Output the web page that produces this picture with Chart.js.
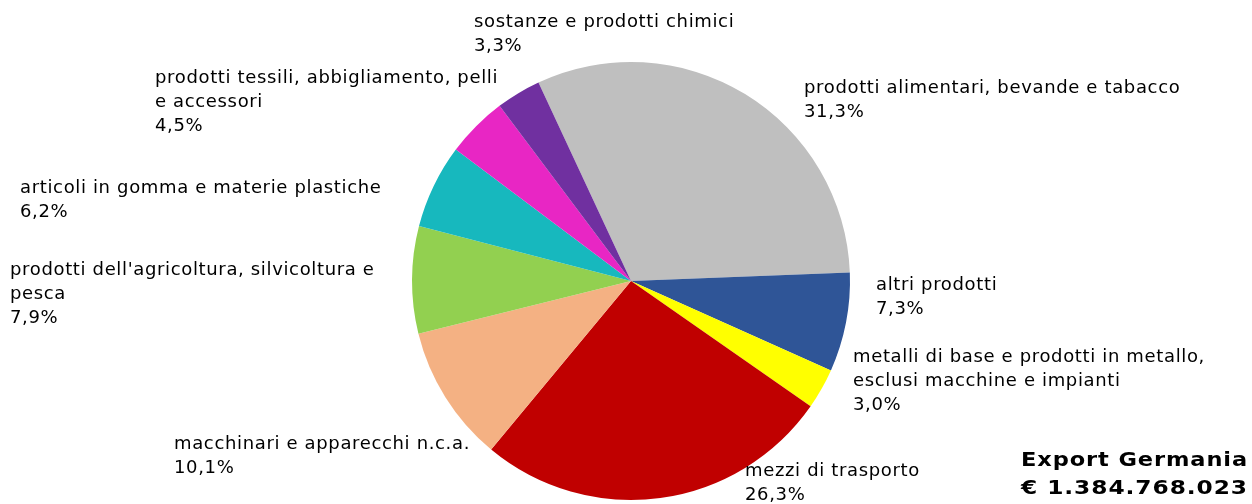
<!DOCTYPE html>
<html>
<head>
<meta charset="utf-8">
<script src="https://cdn.jsdelivr.net/npm/chart.js@4"></script>
<style>
  html, body { margin: 0; padding: 0; background: #fff; }
</style>
</head>
<body>
<canvas id="chart" width="1252" height="504"></canvas>
<script>
// categories, as the label lines shown next to each slice
const categories = [
  ['prodotti alimentari, bevande e tabacco'],
  ['altri prodotti'],
  ['metalli di base e prodotti in metallo,', 'esclusi macchine e impianti'],
  ['mezzi di trasporto'],
  ['macchinari e apparecchi n.c.a.'],
  ["prodotti dell'agricoltura, silvicoltura e", 'pesca'],
  ['articoli in gomma e materie plastiche'],
  ['prodotti tessili, abbigliamento, pelli', 'e accessori'],
  ['sostanze e prodotti chimici']
];
const shares = [31.3, 7.3, 3.0, 26.3, 10.1, 7.9, 6.2, 4.5, 3.3];
const colors = ['#BFBFBF', '#2F5597', '#FFFF00', '#C00000', '#F4B183',
                '#92D050', '#17B8BE', '#E826C4', '#7030A0'];
const titleLines = ['Export Germania', '€ 1.384.768.023'];

// where each label's first line sits (left x, middle y)
const labelPos = [
  [804, 88], [876, 285], [853, 357], [745, 471], [174, 444],
  [10, 270], [20, 188], [155, 78], [474, 22]
];

const FONT = '"DejaVu Sans", Verdana, sans-serif';

const labelPlugin = {
  id: 'sliceLabels',
  afterDraw(chart) {
    const ctx = chart.ctx;
    ctx.save();
    ctx.fillStyle = '#000';
    ctx.textAlign = 'left';
    ctx.textBaseline = 'middle';
    ctx.font = '18px ' + FONT;
    ctx.letterSpacing = '0.65px';
    const lineH = 24;
    categories.forEach((lines, i) => {
      const [x, y] = labelPos[i];
      const all = lines.concat([shares[i].toFixed(1).replace('.', ',') + '%']);
      all.forEach((t, j) => ctx.fillText(t, x, y + j * lineH));
    });

    // bold total, stretched a bit to get the wide Verdana look
    ctx.font = 'bold 20px ' + FONT;
    ctx.letterSpacing = '0.8px';
    ctx.textAlign = 'right';
    titleLines.forEach((t, j) => {
      const sx = 227 / ctx.measureText(t).width;
      ctx.save();
      ctx.translate(1248, 461 + j * 28);
      ctx.scale(sx, 1);
      ctx.fillText(t, 0, 0);
      ctx.restore();
    });
    ctx.restore();
  }
};

new Chart(document.getElementById('chart'), {
  type: 'pie',
  data: {
    labels: categories.map(c => c.join(' ')),
    datasets: [{
      data: shares,
      backgroundColor: colors,
      borderWidth: 0
    }]
  },
  options: {
    responsive: false,
    animation: false,
    rotation: -25,
    layout: { padding: { left: 412, right: 402, top: 62, bottom: 4 } },
    plugins: {
      legend: { display: false },
      tooltip: { enabled: false }
    }
  },
  plugins: [labelPlugin]
});
</script>
</body>
</html>
